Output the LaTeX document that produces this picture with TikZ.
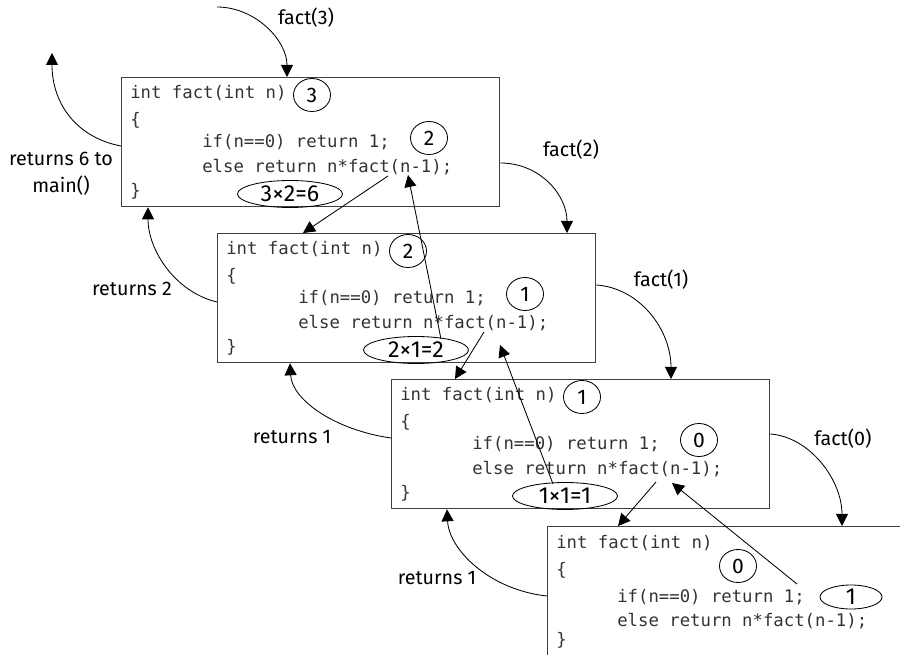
\documentclass[tikz,border=0pt]{standalone}
\usepackage{fontspec}
\setmainfont{Fira Sans}
\newfontfamily\codefont{DejaVu Sans Mono}
\usetikzlibrary{arrows.meta,shapes.geometric}

\tikzset{
  frame/.style={draw=black!75, line width=0.9pt, anchor=north west, inner sep=0pt,
    minimum width=9.45cm, minimum height=3.225cm},
  code/.style={anchor=west, inner sep=0pt, text=black!80,
    font=\codefont\fontsize{12.3}{14}\selectfont},
  num/.style={draw, line width=0.6pt, ellipse, inner sep=0pt,
    minimum width=0.925cm, minimum height=0.825cm, font=\fontsize{15}{16}\selectfont},
  prod/.style={draw, line width=0.6pt, ellipse, inner sep=0pt,
    minimum width=2.625cm, minimum height=0.675cm, font=\fontsize{16.5}{16}\selectfont},
  lbl/.style={font=\fontsize{14}{19}\selectfont, align=center},
  arr/.style={line width=0.6pt, -{Triangle[length=0.3cm,width=0.3cm]}},
}

\begin{document}
\begin{tikzpicture}[x=0.025cm,y=-0.025cm]
\useasboundingbox (0,0) rectangle (900,655);
\clip (0,0) rectangle (900,655);

% the three full frames
\foreach \b/\x/\y/\n/\m/\p/\r in {1/121/77/3/2/169/3×2=6, 2/217/233/2/1/199/2×1=2, 3/391/379/1/0/174/1×1=1} {
  \node[frame] (b\b) at (\x,\y) {};
  \node[code] (b\b-l1) at ([shift={(9,16)}]b\b.north west) {int fact(int n)};
  \node[code] (b\b-l2) at ([shift={(9,43)}]b\b.north west) {\{};
  \node[code] (b\b-l3) at ([shift={(81,65)}]b\b.north west) {if(n==0) return 1;};
  \node[code] (b\b-l4) at ([shift={(81,90)}]b\b.north west) {else return n*fact(n-1);};
  \node[code] (b\b-l5) at ([shift={(9,114)}]b\b.north west) {\}};
  \node[num] (n\b) at ([shift={(191,18)}]b\b.north west) {\n};
  \node[num] (m\b) at ([shift={(308,61)}]b\b.north west) {\m};
  \node[prod] (r\b) at ([shift={(\p,117)}]b\b.north west) {\r};
}

% last frame, cut by the page edge
\node[frame, minimum width=10cm, minimum height=4cm] (b4) at (547,526) {};
\node[code] (b4-l1) at ([shift={(9,17)}]b4.north west) {int fact(int n)};
\node[code] (b4-l2) at ([shift={(9,44)}]b4.north west) {\{};
\node[code] (b4-l3) at ([shift={(70,71)}]b4.north west) {if(n==0) return 1;};
\node[code] (b4-l4) at ([shift={(70,95)}]b4.north west) {else return n*fact(n-1);};
\node[code] (b4-l5) at ([shift={(9,114)}]b4.north west) {\}};
\node[num] (n4) at ([shift={(191,40)}]b4.north west) {0};
\node[prod, minimum width=1.55cm, minimum height=0.6cm] (r4) at ([shift={(304,71)}]b4.north west) {1};

% labels
\node[lbl] (f3) at (306,18) {fact(3)};
\node[lbl] (f2) at (571,150) {fact(2)};
\node[lbl] (f1) at (661,280) {fact(1)};
\node[lbl] (f0) at (843,439) {fact(0)};
\node[lbl] (ret6) at (61,174) {returns 6 to\\main()};
\node[lbl] (ret2) at (132,289) {returns 2};
\node[lbl] (ret1a) at (292,437) {returns 1};
\node[lbl] (ret1b) at (437,578) {returns 1};

% free ends
\coordinate (call) at (217,7);
\coordinate (main) at (52,53);

% calls going down
\draw[arr] (call) .. controls (255,7) and (287,40) .. ([shift={(166,0)}]b1.north west);
\draw[arr] ([shift={(0,86)}]b1.north east) .. controls (540,163) and (567,195) .. ([shift={(350,0)}]b2.north west);
\draw[arr] ([shift={(0,52)}]b2.north east) .. controls (640,288) and (671,330) .. ([shift={(280,0)}]b3.north west);
\draw[arr] ([shift={(0,55)}]b3.north east) .. controls (810,437) and (842,480) .. ([shift={(295,0)}]b4.north west);

% returns going up
\draw[arr] ([shift={(0,69)}]b1.north west) .. controls (78,138) and (52,105) .. (main);
\draw[arr] ([shift={(0,69)}]b2.north west) .. controls (175,292) and (148,250) .. ([shift={(27,0)}]b1.south west);
\draw[arr] ([shift={(0,59)}]b3.north west) .. controls (335,430) and (292,400) .. ([shift={(73,0)}]b2.south west);
\draw[arr] ([shift={(0,70)}]b4.north west) .. controls (490,590) and (449,550) .. ([shift={(56,0)}]b3.south west);

% straight arrows between the frames
\draw[arr] ([shift={(267,99)}]b1.north west) -- ([shift={(86,0)}]b2.north west);
\draw[arr] ([shift={(267,99)}]b2.north west) -- ([shift={(64,0)}]b3.north west);
\draw[arr] ([shift={(265,103)}]b3.north west) -- ([shift={(71,0)}]b4.north west);
\draw[arr] ([shift={(25,-11)}]r2.center) -- ([shift={(287,98)}]b1.north west);
\draw[arr] ([shift={(-12,-12)}]r3.center) -- ([shift={(283,112)}]b2.north west);
\draw[arr] ([shift={(-54,-13)}]r4.center) -- ([shift={(281,104)}]b3.north west);
\end{tikzpicture}
\end{document}
